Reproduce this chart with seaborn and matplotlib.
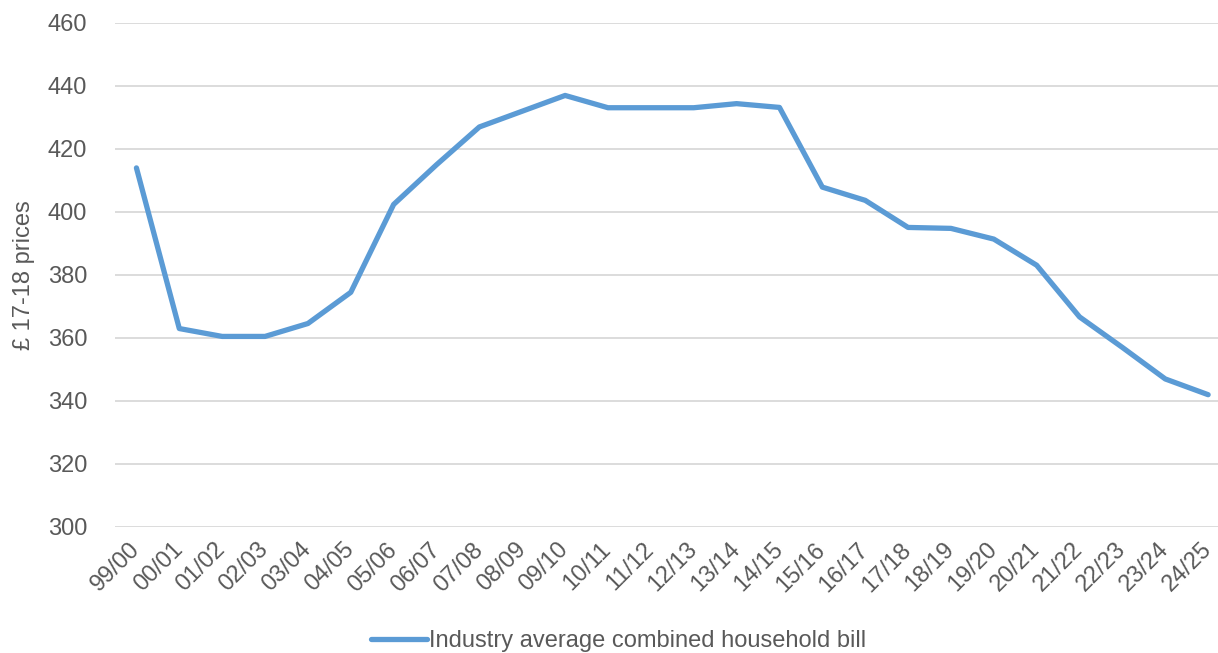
import matplotlib
matplotlib.use("Agg")
import matplotlib.pyplot as plt
import seaborn as sns
import pandas as pd
from matplotlib.lines import Line2D

years = ["99/00", "00/01", "01/02", "02/03", "03/04", "04/05", "05/06", "06/07",
         "07/08", "08/09", "09/10", "10/11", "11/12", "12/13", "13/14", "14/15",
         "15/16", "16/17", "17/18", "18/19", "19/20", "20/21", "21/22", "22/23",
         "23/24", "24/25"]
bill = [414.0, 363.0, 360.5, 360.5, 364.6, 374.5, 402.4, 415.0,
        427.0, 432.0, 437.0, 433.1, 433.1, 433.1, 434.4, 433.2,
        407.9, 403.7, 395.1, 394.8, 391.4, 383.1, 366.7, 357.0,
        347.0, 342.0]
y_ticks = [300, 320, 340, 360, 380, 400, 420, 440, 460]
series_name = "Industry average combined household bill"

sns.set_theme(style="white")
plt.rcParams["font.family"] = ["Liberation Sans", "DejaVu Sans"]

text_color = "#595959"
line_color = "#5B9BD5"
font_size = 17

df = pd.DataFrame({"pos": range(len(years)), "bill": bill})

fig = plt.figure(figsize=(12.18, 6.53), dpi=100)
ax = fig.add_axes([115 / 1218, 1 - 527 / 653, 1 - 115 / 1218, (527 - 23) / 653])

sns.lineplot(data=df, x="pos", y="bill", ax=ax, color=line_color,
             linewidth=3.8, solid_capstyle="round", solid_joinstyle="round")

ax.set_ylim(300, 460)
ax.set_yticks(y_ticks)
ax.set_xlim(-0.5, 25.23)
ax.set_xticks(range(len(years)))
ax.set_xticklabels(years, rotation=45, ha="right", va="center",
                   rotation_mode="anchor")

ax.grid(axis="y", color="#D9D9D9", linewidth=1.3)
ax.grid(axis="x", visible=False)
ax.set_axisbelow(True)
for s in ax.spines.values():
    s.set_visible(False)

ax.tick_params(axis="both", length=0, labelcolor=text_color, labelsize=font_size)
ax.tick_params(axis="y", pad=20)
ax.tick_params(axis="x", pad=14)
ax.set_xlabel("")
ax.set_ylabel("£ 17-18 prices", color=text_color, fontsize=font_size, labelpad=9)

handle = Line2D([], [], color=line_color, linewidth=3.8, solid_capstyle="round")
fig.legend([handle], [series_name], loc="center",
           bbox_to_anchor=(0.508, 1 - 641 / 653), frameon=False, fontsize=font_size,
           handlelength=2.35, handletextpad=0.12, labelcolor=text_color,
           borderpad=0, borderaxespad=0)

fig.savefig("out.png", dpi=100)
